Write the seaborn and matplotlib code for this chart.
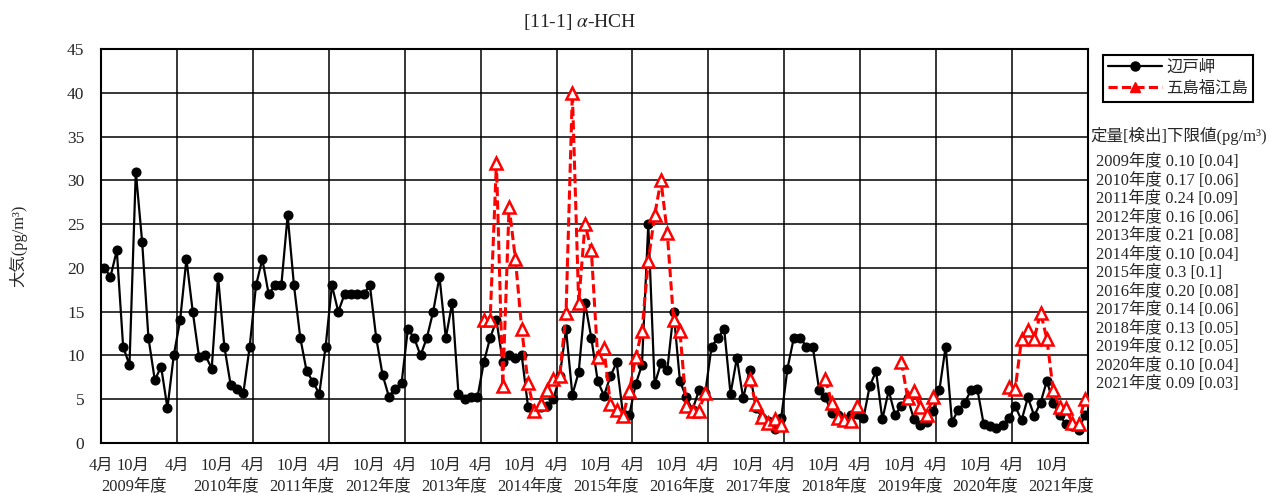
import numpy as np
import pandas as pd
import matplotlib
matplotlib.use("Agg")
import matplotlib.pyplot as plt
from matplotlib.lines import Line2D
from matplotlib.transforms import blended_transform_factory
import seaborn as sns

# ---------------- data ----------------
fiscal_years = [2009, 2010, 2011, 2012, 2013, 2014, 2015, 2016, 2017, 2018, 2019, 2020, 2021]
month_labels = ["4月", "10月"]
nan = np.nan

# 辺戸岬 (monthly, April..March of each fiscal year)
hedo = [
    20, 19, 22, 11, 8.9, 31, 23, 12, 7.2, 8.7, 4.0, 10,          # 2009
    14, 21, 15, 9.8, 10, 8.5, 19, 11, 6.6, 6.2, 5.7, 11,          # 2010
    18, 21, 17, 18, 18, 26, 18, 12, 8.2, 7.0, 5.6, 11,            # 2011
    18, 15, 17, 17, 17, 17, 18, 12, 7.8, 5.3, 6.2, 6.8,           # 2012
    13, 12, 10, 12, 15, 19, 12, 16, 5.6, 5.0, 5.2, 5.2,           # 2013
    9.2, 12, 14, 9.3, 10, 9.7, 10, 4.1, 3.7, 4.1, 4.2, 5.0,       # 2014
    7.6, 13, 5.5, 8.1, 16, 12, 7.1, 5.4, 7.6, 9.2, 3.3, 3.2,      # 2015
    6.7, 8.9, 25, 6.7, 9.1, 8.3, 15, 7.1, 5.2, 3.8, 6.0, 5.7,     # 2016
    11, 12, 13, 5.6, 9.7, 5.1, 8.3, 4.0, 2.9, 2.5, 1.6, 2.8,      # 2017
    8.5, 12, 12, 11, 11, 6.1, 5.2, 3.4, 3.2, 2.7, 3.2, 3.3,       # 2018
    2.8, 6.5, 8.2, 2.7, 6.0, 3.2, 4.2, 5.1, 2.7, 2.0, 2.4, 3.7,   # 2019
    6.0, 11, 2.4, 3.8, 4.6, 6.0, 6.2, 2.2, 1.9, 1.7, 2.0, 2.8,    # 2020
    4.2, 2.6, 5.2, 3.1, 4.6, 7.1, 4.6, 3.2, 2.2, 1.9, 1.5, 3.2,   # 2021
]

# 五島福江島
goto = [nan] * 60 + [                                              # 2009-2013
    14, 14, 32, 6.5, 27, 21, 13, 6.8, 3.6, 4.5, 6.0, 7.3,         # 2014
    7.7, 14.8, 40, 16, 25, 22, 9.8, 10.8, 4.5, 3.8, 3.1, 5.9,     # 2015
    9.8, 12.8, 20.8, 26, 30, 24, 14, 12.8, 4.2, 3.7, 3.7, 5.7,    # 2016
    nan, nan, nan, nan, nan, nan, 7.3, 4.5, 3.0, 2.3, 2.7, 2.0,   # 2017
    nan, nan, nan, nan, nan, nan, 7.3, 4.6, 2.9, 2.6, 2.55, 4.2,  # 2018
    nan, nan, nan, nan, nan, nan, 9.3, 5.1, 5.9, 4.1, 3.2, 5.2,   # 2019
    nan, nan, nan, nan, nan, nan, nan, nan, nan, nan, nan, 6.4,   # 2020
    6.2, 11.9, 12.9, 11.9, 14.9, 11.9, 6.0, 4.1, 4.0, 2.3, 2.2, 5.0,  # 2021
]

limit_years = fiscal_years
limit_quant = ["0.10", "0.17", "0.24", "0.16", "0.21", "0.10", "0.3", "0.20", "0.14", "0.13", "0.12", "0.10", "0.09"]
limit_detect = ["0.04", "0.06", "0.09", "0.06", "0.08", "0.04", "0.1", "0.08", "0.06", "0.05", "0.05", "0.04", "0.03"]

series_names = ["辺戸岬", "五島福江島"]
title = "[11-1] $\\alpha$-HCH"
ylabel = "大気(pg/m³)"
limit_header = "定量[検出]下限値(pg/m³)"

# ---------------- style ----------------
sns.set_theme(style="white")
FONT = ["Liberation Serif", "Noto Sans CJK JP", "DejaVu Sans"]
plt.rcParams["font.family"] = FONT
plt.rcParams["mathtext.fontset"] = "stix"
plt.rcParams["axes.unicode_minus"] = False

W, H = 1271, 493
fig = plt.figure(figsize=(W / 100, H / 100), dpi=100)
ax = fig.add_axes([101 / W, 1 - 443 / H, 987 / W, 394 / H])

n = len(hedo)
x = np.arange(n) + 0.5

df_h = pd.DataFrame({"x": x, "y": hedo})
df_g = pd.DataFrame({"x": x, "y": goto})
# contiguous segments so gaps are not bridged
valid = df_g["y"].notna()
df_g["seg"] = (valid != valid.shift()).cumsum()
df_g = df_g[valid]

sns.lineplot(data=df_h, x="x", y="y", ax=ax, color="black", linewidth=1.6,
             marker="o", markersize=6.5, markeredgecolor="black",
             markerfacecolor="black", legend=False, zorder=3)
sns.lineplot(data=df_g, x="x", y="y", units="seg", estimator=None, ax=ax,
             color="#ff0000", linewidth=2.2, linestyle=(0, (3.0, 1.4)),
             marker="^", markersize=8, markeredgecolor="#ff0000",
             markerfacecolor="white", markeredgewidth=1.8, legend=False, zorder=4)

ax.set_xlim(0, n)
ax.set_ylim(0, 45)
ax.set_yticks(np.arange(0, 46, 5))
ax.set_xticks(np.arange(0, n + 1, 12))
ax.set_xticklabels([])
ax.grid(True, color="black", linewidth=1.1)
ax.set_axisbelow(True)
ax.set_xlabel("")
ax.set_ylabel("")
ax.tick_params(axis="y", length=0, pad=12, labelsize=12.5)
ax.tick_params(axis="x", length=0)
for s in ax.spines.values():
    s.set_color("black")
    s.set_linewidth(1.5)

# x labels
tr = blended_transform_factory(ax.transData, fig.transFigure)
y_row1 = 1 - 466 / H
y_row2 = 1 - 486 / H
for k, fy in enumerate(fiscal_years):
    start = k * 12
    ax.text(start, y_row1, month_labels[0], transform=tr, ha="center", va="center", fontsize=11.8)
    oct_off = 5.0 if k == 0 else 6.3
    ax.text(start + oct_off, y_row1, month_labels[1], transform=tr, ha="center", va="center", fontsize=11.8)
    yr_off = 5.3 if k == 0 else 7.8
    ax.text(start + yr_off, y_row2, f"{fy}年度", transform=tr, ha="center", va="center", fontsize=11.8)

# y label & title
fig.text(18 / W, 1 - 246 / H, ylabel, rotation=90, ha="center", va="center", fontsize=11.8)
fig.text(580 / W, 1 - 22 / H, title, ha="center", va="center", fontsize=14)

# legend
handles = [
    Line2D([], [], color="black", linewidth=1.6, marker="o", markersize=6.5),
    Line2D([], [], color="#ff0000", linewidth=2.2, linestyle=(0, (3.0, 1.4)),
           marker="^", markersize=7, markerfacecolor="#ff0000"),
]
leg = fig.legend(handles, series_names, loc="upper left",
                 bbox_to_anchor=(1103 / W, 1 - 55 / H), fontsize=11.8,
                 frameon=True, fancybox=False, edgecolor="black", framealpha=1,
                 handlelength=3.3, handletextpad=0.25, borderpad=0.3,
                 labelspacing=0.3, borderaxespad=0)
leg.get_frame().set_linewidth(1.5)

# detection limits block
fig.text(1090 / W, 1 - 136 / H, limit_header, ha="left", va="center", fontsize=11.9)
for k, (yy, q, d) in enumerate(zip(limit_years, limit_quant, limit_detect)):
    fig.text(1096 / W, 1 - (162 + k * 18.5) / H, f"{yy}年度 {q} [{d}]",
             ha="left", va="center", fontsize=11.8)

fig.savefig("out.png", dpi=100)
